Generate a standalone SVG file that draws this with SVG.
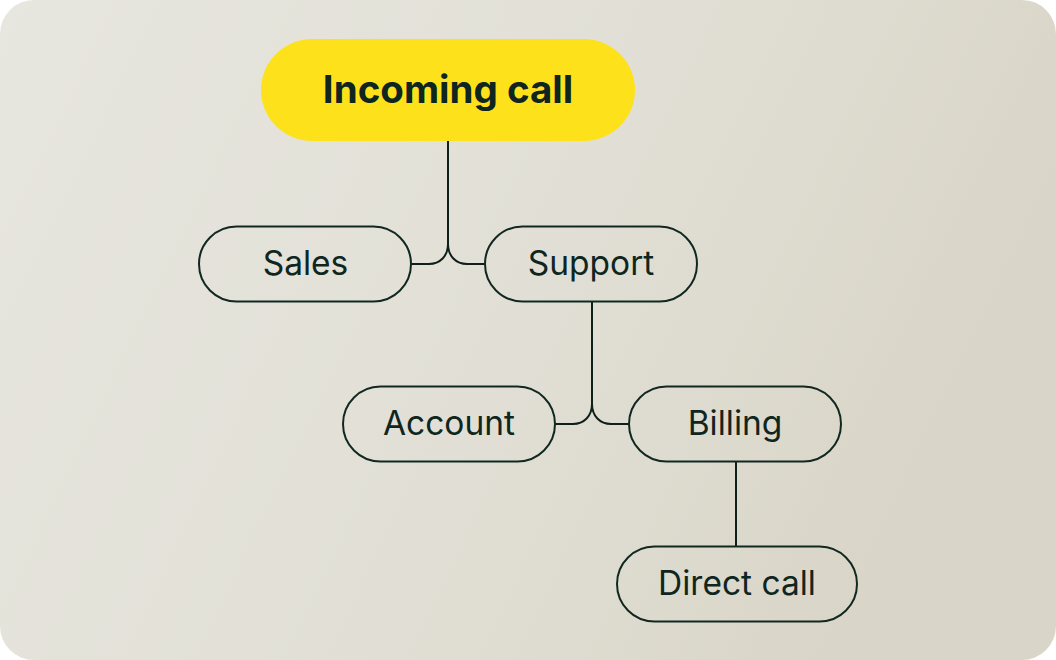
<svg xmlns="http://www.w3.org/2000/svg" width="1056" height="660" viewBox="0 0 1056 660">
  <defs>
    <linearGradient id="bg" x1="0" y1="0" x2="1" y2="0.3">
      <stop offset="0" stop-color="#e7e6df"/>
      <stop offset="0.6" stop-color="#e1dfd5"/>
      <stop offset="1" stop-color="#d9d5c8"/>
    </linearGradient>
    <style>
      .node { fill: none; stroke: #112820; stroke-width: 2; }
      .lbl { font-family: Inter, "Liberation Sans", sans-serif; font-size: 33.5px; fill: #0f2620; text-anchor: middle; dominant-baseline: central; }
      .conn { fill: none; stroke: #0f1f1a; stroke-width: 2; }
    </style>
  </defs>
  <rect x="0" y="0" width="1056" height="660" fill="#ffffff"/>
  <rect x="0" y="0" width="1056" height="660" rx="34" fill="url(#bg)"/>

  <g id="connectors">
    <path class="conn" d="M448 141 V244 C448 256 440 264 429 264 H411"/>
    <path class="conn" d="M448 244 C448 256 456 264 467 264 H485"/>
    <path class="conn" d="M592 301 V404 C592 416 584 424 573 424 H555"/>
    <path class="conn" d="M592 404 C592 416 600 424 611 424 H629"/>
    <path class="conn" d="M736 461.5 V546.5"/>
  </g>

  <g id="incoming-call">
    <rect x="261" y="39" width="374" height="102" rx="51" fill="#fde11b"/>
    <text class="lbl" x="448" y="89" style="font-size:38.5px;font-weight:700">Incoming call</text>
  </g>
  <g id="sales">
    <rect class="node" x="199" y="226.5" width="212" height="75" rx="37.5"/>
    <text class="lbl" x="305.5" y="263">Sales</text>
  </g>
  <g id="support">
    <rect class="node" x="485" y="226.5" width="212" height="75" rx="37.5"/>
    <text class="lbl" x="591" y="263">Support</text>
  </g>
  <g id="account">
    <rect class="node" x="343" y="386.5" width="212" height="75" rx="37.5"/>
    <text class="lbl" x="449" y="423">Account</text>
  </g>
  <g id="billing">
    <rect class="node" x="629" y="386.5" width="212" height="75" rx="37.5"/>
    <text class="lbl" x="735" y="423">Billing</text>
  </g>
  <g id="direct-call">
    <rect class="node" x="617" y="546.5" width="240" height="75" rx="37.5"/>
    <text class="lbl" x="737" y="583">Direct call</text>
  </g>
</svg>
